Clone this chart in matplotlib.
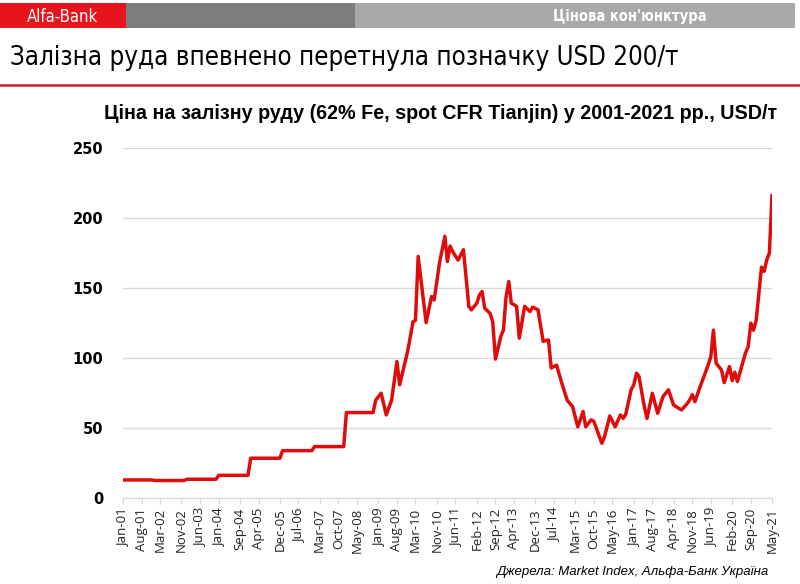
import matplotlib
matplotlib.use("Agg")
from matplotlib import pyplot as plt
import pandas as pd

# price points (USD/t)
dates = ["2001-01", "2001-12", "2002-01", "2002-12", "2003-01", "2003-12",
         "2004-01", "2004-12", "2005-01", "2005-12", "2006-01", "2006-12",
         "2007-01", "2007-12", "2008-01", "2008-11", "2008-12", "2009-02",
         "2009-04", "2009-06", "2009-08", "2009-09", "2009-12", "2010-02",
         "2010-03", "2010-04", "2010-07", "2010-09", "2010-10", "2010-12",
         "2011-02", "2011-03", "2011-04", "2011-05", "2011-07", "2011-09",
         "2011-11", "2011-12", "2012-02", "2012-03", "2012-04", "2012-05",
         "2012-07", "2012-08", "2012-09", "2012-11", "2012-12", "2013-01",
         "2013-02", "2013-03", "2013-05", "2013-06", "2013-08", "2013-10",
         "2013-11", "2014-01", "2014-03", "2014-05", "2014-06", "2014-08",
         "2014-10", "2014-12", "2015-02", "2015-04", "2015-06", "2015-07",
         "2015-09", "2015-10", "2016-01", "2016-02", "2016-04", "2016-06",
         "2016-08", "2016-09", "2016-10", "2016-12", "2017-01", "2017-02",
         "2017-03", "2017-05", "2017-06", "2017-08", "2017-10", "2017-12",
         "2018-02", "2018-04", "2018-07", "2018-09", "2018-10", "2018-11",
         "2018-12", "2019-02", "2019-05", "2019-06", "2019-07", "2019-08",
         "2019-10", "2019-11", "2020-01", "2020-02", "2020-03", "2020-04",
         "2020-07", "2020-08", "2020-09", "2020-10", "2020-11", "2021-01",
         "2021-02", "2021-03", "2021-04", "2021-05"]
prices = [13.1, 13.1, 12.7, 12.7, 13.6, 13.6,
          16.4, 16.4, 28.6, 28.6, 34.0, 34.0,
          36.9, 36.9, 61.2, 61.2, 70.0, 75.0,
          59.5, 70.0, 97.6, 81.0, 104.7, 126.0,
          127.0, 172.6, 125.4, 144.0, 141.6, 168.0,
          187.0, 169.0, 180.0, 176.0, 170.0, 177.4,
          137.0, 134.5, 139.3, 145.0, 147.6, 135.7,
          132.0, 126.0, 99.3, 115.4, 120.0, 144.0,
          154.7, 139.3, 137.0, 114.3, 137.0, 133.3,
          136.4, 134.5, 112.0, 113.0, 93.0, 95.0,
          82.0, 70.0, 65.4, 51.0, 62.0, 51.0,
          56.0, 55.0, 39.3, 44.0, 58.8, 51.0,
          59.5, 57.0, 60.0, 77.4, 81.0, 89.3,
          87.0, 65.4, 57.0, 75.0, 60.7, 72.6,
          77.4, 66.6, 63.0, 67.4, 70.0, 74.0,
          69.0, 80.0, 95.0, 101.0, 120.0, 96.4,
          91.6, 82.6, 94.0, 84.0, 90.0, 83.3,
          103.6, 108.0, 125.0, 120.0, 127.0, 165.0,
          162.0, 170.0, 175.0, 216.0]

tick_labels = ["Jan-01", "Aug-01", "Mar-02", "Nov-02", "Jun-03", "Jan-04",
               "Sep-04", "Apr-05", "Dec-05", "Jul-06", "Mar-07", "Oct-07",
               "May-08", "Jan-09", "Aug-09", "Mar-10", "Nov-10", "Jun-11",
               "Feb-12", "Sep-12", "Apr-13", "Dec-13", "Jul-14", "Mar-15",
               "Oct-15", "May-16", "Jan-17", "Aug-17", "Apr-18", "Nov-18",
               "Jun-19", "Feb-20", "Sep-20", "May-21"]

x = pd.to_datetime(dates, format="%Y-%m")
ticks = pd.to_datetime(tick_labels, format="%b-%y")

W, H = 800, 584
fig = plt.figure(figsize=(8, 5.84), dpi=100)

# header bars
for x0, x1, c in [(0, 126, "#e8141c"), (126, 355, "#7d7d7d"), (355, 795, "#a9a9a9")]:
    fig.patches.append(plt.Rectangle((x0/W, 1 - 28/H), (x1 - x0)/W, 25/H,
                                     transform=fig.transFigure, color=c, lw=0))
cond = dict(family="DejaVu Sans", stretch="condensed")
fig.text(27/W, 1 - 17/H, "Alfa-Bank", color="white", fontsize=12,
         va="center", **cond)
fig.text(707/W, 1 - 17/H, "Цінова кон'юнктура", color="white", fontsize=10.5,
         weight="bold", va="center", ha="right", **cond)

fig.text(10/W, 1 - 58/H, "Залізна руда впевнено перетнула позначку USD 200/т",
         fontsize=18.5, va="center", **cond)
fig.add_artist(plt.Line2D([0, 1], [1 - 85/H, 1 - 85/H], color="#c4202e",
                          lw=1.8, transform=fig.transFigure))

fig.text(441/W, 1 - 113/H,
         "Ціна на залізну руду (62% Fe, spot CFR Tianjin) у 2001-2021 рр., USD/т",
         fontsize=14.2, weight="bold", family=["Liberation Sans", "DejaVu Sans"],
         ha="center", va="center")

ax = fig.add_axes([123/W, 1 - 498.3/H, 649/W, 350.3/H])
ax.plot(x, prices, color="#df0c0c", lw=2.5, solid_joinstyle="round")
ax.set_ylim(0, 250)
ax.set_xlim(x[0], x[-1])
ax.set_yticks([0, 50, 100, 150, 200, 250])
ax.set_xticks(ticks)
ax.set_xticklabels(tick_labels, rotation=90, fontsize=9.5, color="#222222",
                   family=["Open Sans", "DejaVu Sans"])
for lab in ax.get_yticklabels():
    lab.set_fontweight("bold")
    lab.set_fontsize(10.5)
ax.yaxis.grid(True, color="#d9d9d9", lw=1)
ax.set_axisbelow(True)
for s in ["top", "right", "left"]:
    ax.spines[s].set_visible(False)
ax.spines["bottom"].set_color("#d9d9d9")
ax.tick_params(axis="y", length=0, pad=14)
ax.tick_params(axis="x", length=4, color="#d9d9d9", pad=3)

fig.text(768/W, 1 - 572/H, "Джерела: Market Index, Альфа-Банк Україна",
         fontsize=9.5, style="italic", ha="right", va="center",
         family=["Liberation Sans", "DejaVu Sans"])

fig.savefig("out.png", dpi=100, facecolor="white")
